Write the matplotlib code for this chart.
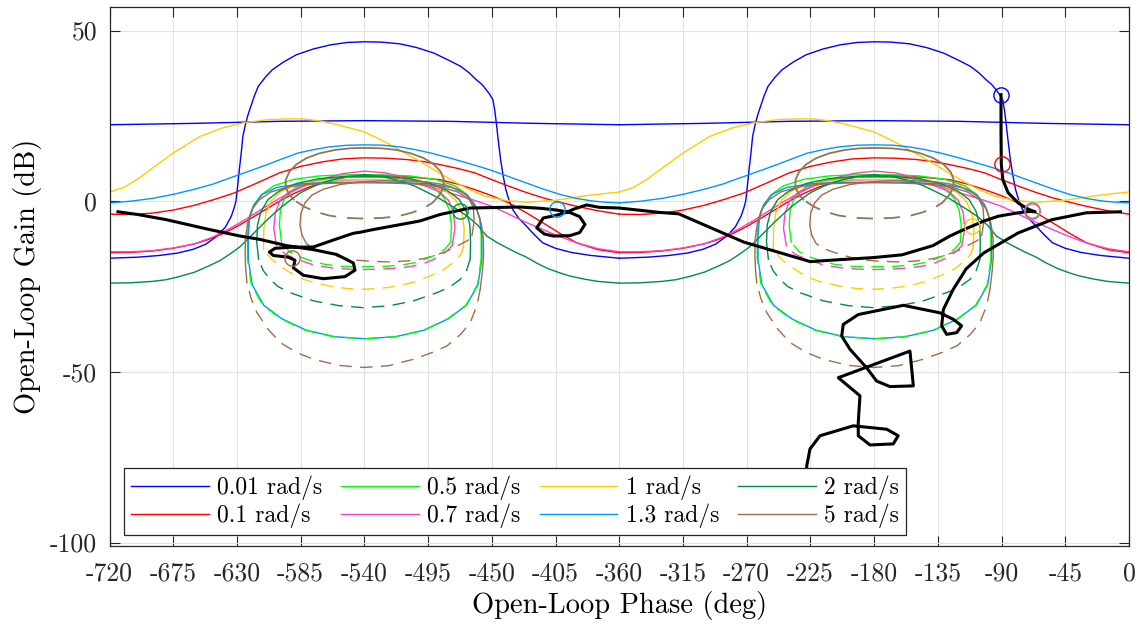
import numpy as np
import matplotlib
matplotlib.use('Agg')
import matplotlib.pyplot as plt
from matplotlib.lines import Line2D

plt.rcParams['font.family'] = ['cmr10', 'DejaVu Serif']
plt.rcParams['axes.unicode_minus'] = False
plt.rcParams['mathtext.fontset'] = 'cm'

# ---- bound data over one period (phase -360..0 deg); drawn again at -360 ----
# 0.01 rad/s
blue_top_ph = [-360, -300, -240, -180, -120, -60, 0]
blue_top_g = [22.4, 22.8, 23.4, 23.6, 23.4, 22.8, 22.4]
blue_hat_ph = [-360, -340, -325, -312, -301, -292, -284, -278, -274, -272, -270.7, -269.5,
               -268.3, -267, -265.8, -264, -262.2, -258, -255, -250, -245, -237, -228, -216,
               -204, -192, -180, -168, -155, -143, -131, -120, -112, -106, -101, -97, -94,
               -91.5, -89.2, -88, -86.8, -85.5, -83.8, -82, -80.1, -78, -75.3, -71, -65.6,
               -60, -54, -45, -34, -20, 0]
blue_hat_g = [-16.7, -16.4, -15.9, -15.2, -14.1, -12.6, -10.2, -7.5, -4.4, -2, 0, 4.5,
              9.3, 14, 19, 22.5, 25.3, 30.5, 33.6, 36.3, 38.5, 40.8, 42.9, 44.6,
              45.8, 46.5, 46.7, 46.6, 46.1, 45, 43.4, 41.2, 39.5, 37.6, 35.6, 34.2, 32.7,
              31.3, 29.7, 26.8, 22.9, 18, 12.2, 7.5, 3.4, 0.5, -2.4, -5, -7.3,
              -9.8, -12.2, -13.8, -15, -15.9, -16.7]
# 0.1 rad/s
red_a_ph = [-360, -345, -330, -315, -300, -286, -272, -256, -240, -225, -210, -195, -180, -165,
            -150, -138, -126.5, -114, -102, -90, -78, -66, -54, -42, -30, -15, 0]
red_a_g = [-3.8, -3.9, -3.5, -2.6, -1.2, 0.5, 2.4, 5.3, 8.3, 10.2, 11.5, 12.4, 12.7, 12.6,
           12.2, 11.6, 10.7, 9.6, 8.3, 6.3, 4.4, 2.6, 1.0, -0.3, -1.5, -2.8, -3.8]
red_b_ph = [-360, -345, -330, -315, -300, -290, -280, -270, -260, -250, -240, -230, -220, -210,
            -200, -190, -180, -168, -155, -140, -126.5, -114, -102, -90, -78, -66, -54, -42,
            -30, -15, 0]
red_b_g = [-15.1, -15, -14.6, -13.8, -12.5, -11.2, -9.5, -7.4, -5, -2.5, 0, 2.2, 4, 5.4,
           6.5, 7.2, 7.6, 7.6, 7.3, 6.8, 6.3, 5.0, 3.4, 1.6, -0.5, -3.3, -6.3, -9.4,
           -12.2, -14.2, -15.1]
# 0.5 rad/s
green_big_ph = [-262.5, -262.5, -261.5, -258.5, -253, -244, -230, -212, -196, -180, -164, -148,
                -130, -116, -107, -101.5, -98.5, -97.5, -97.5]
green_big_g = [-17, -10, -5, -1.5, 1.8, 4.5, 6.4, 7.4, 7.7, 7.8, 7.7, 7.4,
               6.4, 4.5, 1.8, -1.5, -5, -10, -17]
green_big_dash_ph = [-97.5, -100.2, -108.3, -121.3, -138.3, -158.2, -180, -201.8, -221.7,
                     -238.7, -251.7, -259.8, -262.5]
green_big_dash_g = [-17, -24.5, -30.5, -34.5, -37.8, -39.7, -40.3, -39.7, -37.8,
                    -34.5, -30.5, -24.5, -17]
green_in_ph = [-238.5, -240, -239.3, -236, -229, -218, -204, -192, -180, -168, -156, -142,
               -131, -124, -120, -118.5, -119]
green_in_g = [-12, -7, -2.5, 1.2, 3.9, 5.7, 6.7, 7.0, 7.0, 7.0, 6.7, 5.7,
              3.9, 1.2, -2.5, -7, -12]
green_in_dash_ph = [-119, -123, -130, -142, -152, -165, -180, -195, -208, -218, -227, -233, -238.5]
green_in_dash_g = [-12, -14, -15.8, -17.8, -18.6, -19.1, -19.2, -19.1, -18.5, -17.4, -16.1,
                   -14.8, -12]
# 0.7 rad/s
mag_ph = [-360, -345, -330, -315, -300, -287, -275, -265, -255, -245, -235, -222, -210, -195,
          -180, -165, -150, -138, -126.5, -117, -108, -99, -90, -81, -72, -63, -54, -42,
          -30, -15, 0]
mag_g = [-14.8, -14.8, -14.5, -13.7, -12.5, -10.5, -8, -5.6, -3, -0.4, 2, 4.6, 6.5, 8.1,
         8.8, 8.3, 6.8, 5.2, 3.4, 2.1, 1, -0.2, -1.5, -3.2, -5, -6.7, -8.3, -10.4,
         -12.2, -13.9, -14.8]
mag_u_ph = [-242, -244, -243, -239.5, -233, -222, -208, -194, -180, -166, -152, -138, -127,
            -120.5, -117, -116, -118]
mag_u_g = [-13, -8, -3.5, 0.2, 2.8, 4.6, 5.7, 6.2, 6.3, 6.2, 5.7, 4.6, 2.8,
           0.2, -3.5, -8, -13]
mag_u_dash_ph = [-118, -121.7, -128, -140, -150, -160, -170, -180.6, -190, -200, -215, -227.6,
                 -236, -242]
mag_u_dash_g = [-13, -14.6, -16.5, -18.6, -19.3, -19.7, -19.9, -20, -19.9, -19.7, -18.8, -17,
                -15.5, -13]
# 1 rad/s
yel_ph = [-360, -350, -340, -330, -315, -296, -280, -265, -248, -235, -223, -211, -199, -180,
          -167.5, -155, -143, -130, -119, -107, -95, -80, -66, -46, -22, 0]
yel_g = [2.7, 4.0, 6.5, 9.6, 14.1, 19, 21.5, 23, 23.9, 24.1, 24.1, 23.5, 22.4, 20.3,
         17.8, 15, 12.2, 9, 6.3, 3.6, 1.5, 0.2, -0.3, 0.2, 1.7, 2.7]
yel_u_ph = [-251.2, -251, -249.5, -246, -239, -228, -212, -196, -180, -164, -148, -133, -122,
            -115, -111, -109.5, -110]
yel_u_g = [-14.1, -8, -3.5, 0, 2.8, 4.8, 5.9, 6.3, 6.4, 6.3, 5.9, 4.8, 2.8,
           0, -3.5, -8, -13.2]
yel_u_dash_ph = [-110, -111.5, -114.6, -123, -133.5, -145, -157, -168, -180.6, -192, -204, -214,
                 -222.9, -232, -239.4, -246, -251.2]
yel_u_dash_g = [-13.2, -15.3, -17, -19.8, -21.9, -23.7, -24.9, -25.5, -25.8, -25.6, -24.9, -24,
                -22.9, -21, -19, -16.8, -14.1]
# 1.3 rad/s
cyan_ph = [-360, -345, -330, -315, -300, -287, -275, -262, -250, -238, -227, -216, -205, -192,
           -180, -167, -155, -144, -133, -121, -110, -100, -90, -78, -66, -54, -42, -30,
           -18, -9, 0]
cyan_g = [-0.5, 0, 0.8, 2, 3.5, 5, 6.8, 8.7, 10.5, 12.4, 14.1, 15.1, 15.9, 16.4,
          16.5, 16.4, 15.9, 15.1, 14.1, 12.8, 11.5, 10.3, 9.0, 7.2, 5.4, 3.6, 2.0, 0.8,
          0.0, -0.3, -0.5]
cyan_u_ph = [-180, -157, -135, -118, -108, -102, -98.5, -97, -97, -99.8, -108, -121, -138,
             -158, -179.5, -201, -221, -238, -251, -259.2, -262, -262, -261, -258, -252,
             -242, -225, -203, -180]
cyan_u_g = [5.6, 5.5, 5.1, 4.0, 2.0, -1.0, -5, -10, -17, -24.5, -30.5, -34.5, -37.8,
            -39.7, -40.3, -39.7, -37.8, -34.5, -30.5, -24.5, -17, -10, -5, -1, 2,
            4.0, 5.1, 5.5, 5.6]
# 2 rad/s
dkg_ph = [-360, -345, -330, -320, -310, -300, -290, -282, -275, -268, -262, -256, -250, -244,
          -238, -231, -225, -215, -205, -193, -180, -167, -155, -145, -135, -127, -120,
          -113, -107, -100, -93.6, -86, -80, -73, -66, -58, -50, -42, -35, -25, -15, 0]
dkg_g = [-24, -23.9, -23.5, -23, -22, -20.8, -19, -17.4, -15.5, -13.4, -11, -8.5, -6, -3.7,
         -1.5, 0.7, 2.5, 4.5, 6, 7.2, 7.8, 7.2, 6, 4.5, 2.5, 0.8, -1,
         -2.8, -4.5, -7, -10.2, -12.2, -13.5, -15, -16.3, -18.2, -19.8, -21, -21.9, -22.8,
         -23.5, -24]
dkg_u_ph = [-254.7, -256, -255.5, -253, -248, -240, -228, -212, -196, -180, -164, -148, -133,
            -121, -113, -108, -105.5, -105, -105.3]
dkg_u_g = [-17, -12, -7, -3, 0.5, 3, 5.2, 6.6, 7.2, 7.3, 7.2, 6.6, 5.2,
           3, 0.5, -3, -7, -12, -17]
dkg_u_dash_ph = [-105.3, -108, -112.3, -120, -128.8, -145.3, -162, -180.6, -198, -215.9,
                 -232.4, -241, -246.5, -251.5, -254.7]
dkg_u_dash_g = [-17, -20.5, -22.9, -25.2, -26.8, -29.2, -30.6, -31.2, -30.6, -29.2,
                -26.8, -25, -22.9, -20.3, -17]
# 5 rad/s
brn_el_ph = [-230, -233.5, -235.6, -235.5, -233, -228, -221, -212, -201, -190, -180, -168,
             -157, -147, -138, -131, -126, -123.8, -124.3, -126, -127.6]
brn_el_g = [0.5, 2.2, 4.2, 6.3, 8.6, 10.8, 12.6, 14, 15, 15.5, 15.6, 15.5,
            15, 14, 12.6, 10.8, 8.6, 6.3, 4, 2.4, 1.5]
brn_el_dash_ph = [-127.6, -132, -138, -146, -155, -167, -180, -193, -205, -215, -222, -227, -230]
brn_el_dash_g = [1.5, -0.5, -2, -3.3, -4.3, -4.9, -5.1, -4.9, -4.2, -3.0, -1.7, -0.4, 0.5]
brn_in_ph = [-104, -102.5, -103, -106.5, -113, -123, -137, -152, -167, -182, -197, -209, -217,
             -222, -224.8, -225.5, -224]
brn_in_g = [-10, -6, -2, 1.2, 3.3, 4.8, 5.7, 6.0, 6.0, 5.7, 4.9, 3.5, 1.8,
            -0.5, -3.5, -7, -10]
brn_in_dash_ph = [-224, -221, -216, -211, -203, -195, -185, -175, -162, -150, -138, -128,
                  -120, -113, -107, -104]
brn_in_dash_g = [-10, -12.4, -13.8, -14.6, -15.7, -16.6, -17.3, -17.6, -17.8, -17.5, -16.8,
                 -15.6, -14.3, -12.8, -11.5, -10]
brn_out_ph = [-262.9, -263.8, -264.2, -264, -262.5, -259.5, -254, -246, -234, -218, -200, -180,
              -160, -142, -126, -114, -106, -100.5, -97.5, -96, -95.8, -96.5, -98.2]
brn_out_g = [-23.9, -20, -16, -11, -6.5, -2.5, 0.5, 2.7, 4.2, 5.0, 5.3, 5.4,
             5.3, 5.0, 4.2, 2.7, 0.5, -2.5, -6.5, -11, -16, -20, -25.8]
brn_out_dash_ph = [-98.2, -100.5, -105.3, -112, -121.7, -132, -145.3, -163, -180.6, -198,
                   -215.9, -228, -239.4, -248, -255.9, -260, -262.9]
brn_out_dash_g = [-25.8, -30.5, -35.6, -39, -42.4, -44.3, -46.3, -48.2, -48.7, -48.1,
                  -46.3, -44.3, -41.4, -37.5, -32.6, -28.5, -23.9]

# ---- nominal open loop ----
loop_a_ph = [-90.4, -90.4, -90.2, -89.1, -85.4, -78.3, -71, -66.3, -70, -78.3, -92.3, -102.4,
             -110.8, -116.6, -126.5, -138.4, -160.2, -180, -211.2, -225, -271.9, -318, -331,
             -360, -374, -383, -392, -397, -405, -413.6, -418.3, -413, -406.6, -395, -388,
             -384.2, -388, -395, -404, -415, -430.1, -465.4, -486.6, -500.8, -533.7, -543.1,
             -547.8, -557.2, -576, -592.5, -603.1, -607.1, -604.3, -593.7, -589, -590.2,
             -583.1, -569, -553.7, -546.6, -547.8, -559.6, -576, -595, -613.7, -627.8,
             -649.4, -680, -700, -714]
loop_a_g = [31.2, 20, 10.9, 6.3, 2.5, -0.5, -2.4, -3.1, -3.0, -3.4, -4.4, -5.8,
            -7.3, -8.3, -10.2, -13, -15.7, -16.5, -17.3, -17.7, -12, -3.7, -3.3,
            -2.0, -1.8, -1.1, -2.3, -3.2, -4.2, -4.9, -7.8, -9.6, -10.2, -10.1, -9.2,
            -6.8, -4.5, -3.3, -2.6, -2.1, -1.7, -2.0, -3.9, -5.8, -8.3, -9.1,
            -9.4, -10.7, -13.4, -13.5, -13.8, -14.9, -15.9, -16.4, -17.3, -19.5,
            -21.7, -22.7, -22.1, -20.2, -18.1, -15.6, -14.2, -13, -11.2, -10.2,
            -8.3, -5.4, -3.9, -3.1]
loop_b_ph = [-6, -30.2, -54.3, -78.3, -102.4, -115, -124.1, -131.1, -132.3, -128.8, -121.7,
             -118.2, -124.1, -133.5, -159.4, -191.2, -201.8, -202.9, -197, -185.3, -178.2,
             -168.8, -152.3, -154.7, -205.3, -190, -191.2, -191.2, -182.9, -166.5, -163,
             -171.1, -194.7, -218.2, -225.3, -227.6, -228]
loop_b_g = [-3.1, -3.4, -5.4, -9.3, -15.1, -19.8, -25.8, -31.7, -36.5, -39, -38.5,
            -36.5, -34.6, -32.7, -30.5, -33.2, -36.1, -39.5, -43.4, -48.8, -52.7,
            -54.3, -54.1, -43.9, -51.7, -57, -64.8, -68.7, -71.4, -71.1, -68.7,
            -66.8, -65.8, -68.7, -72.6, -77.5, -95]

# loop points at the design frequencies
freqs = ['0.01', '0.1', '0.5', '0.7', '1', '1.3', '2', '5']
mark_ph = [-90.4, -89.9, -68.2, -68.6, -110.8, -404.2, -472.4, -591.4]
mark_g = [31.2, 10.9, -2.7, -2.9, -7.3, -2.4, -2.9, -16.6]

colors = {'0.01': '#0000FF', '0.1': '#FF0000', '0.5': '#00FF00', '0.7': '#FF40C8',
          '1': '#FFCC00', '1.3': '#0095FF', '2': '#008C45', '5': '#A66A44'}
ellipse_col = '#8F7559'

LW = 1.0
DASH = (0, (9, 6))

fig = plt.figure(figsize=(11.39, 6.28), dpi=100)
ax = fig.add_axes([109.5 / 1139, 1 - 546 / 628, (1129 - 109.5) / 1139, (546 - 7.3) / 628])


def periodic(ph, g, col, dashed=False, lw=LW):
    for shift in (0, -360):
        if dashed:
            ax.plot(np.array(ph) + shift, g, color=col, lw=lw, linestyle=DASH)
        else:
            ax.plot(np.array(ph) + shift, g, color=col, lw=lw)


periodic(blue_top_ph, blue_top_g, colors['0.01'])
periodic(blue_hat_ph, blue_hat_g, colors['0.01'])
periodic(red_a_ph, red_a_g, colors['0.1'])
periodic(red_b_ph, red_b_g, colors['0.1'])
periodic(green_big_ph, green_big_g, colors['0.5'])
periodic(green_in_ph, green_in_g, colors['0.5'])
periodic(mag_ph, mag_g, colors['0.7'])
periodic(mag_u_ph, mag_u_g, colors['0.7'])
periodic(yel_ph, yel_g, colors['1'])
periodic(yel_u_ph, yel_u_g, colors['1'])
periodic(yel_u_dash_ph, yel_u_dash_g, colors['1'], dashed=True)
periodic(cyan_ph, cyan_g, colors['1.3'])
periodic(cyan_u_ph, cyan_u_g, colors['1.3'])
periodic(dkg_ph, dkg_g, colors['2'])
periodic(dkg_u_ph, dkg_u_g, colors['2'])
periodic(dkg_u_dash_ph, dkg_u_dash_g, colors['2'], dashed=True)
periodic(brn_el_ph, brn_el_g, ellipse_col, lw=1.3)
periodic(brn_el_dash_ph, brn_el_dash_g, ellipse_col, dashed=True, lw=1.3)
periodic(brn_in_ph, brn_in_g, colors['5'])
periodic(brn_in_dash_ph, brn_in_dash_g, colors['5'], dashed=True)
periodic(brn_out_ph, brn_out_g, colors['5'])
periodic(brn_out_dash_ph, brn_out_dash_g, colors['5'], dashed=True)
# dashed parts drawn over the solid ones they share
periodic(green_big_dash_ph, green_big_dash_g, colors['0.5'], dashed=True)
periodic(green_in_dash_ph, green_in_dash_g, colors['0.5'], dashed=True)
periodic(mag_u_dash_ph, mag_u_dash_g, colors['0.7'], dashed=True)

ax.plot(loop_a_ph, loop_a_g, color='k', lw=2.2, solid_joinstyle='round')
ax.plot(loop_b_ph, loop_b_g, color='k', lw=2.2, solid_joinstyle='round')
for f, p, g in zip(freqs, mark_ph, mark_g):
    ax.plot(p, g, 'o', mfc='none', mec=colors[f], ms=11, mew=1.0)

ax.set_xlim(-720, 0)
ax.set_ylim(-101, 56.8)
xt = list(range(-720, 1, 45))
ax.set_xticks(xt)
ax.set_xticklabels([str(v) for v in xt])
ax.set_yticks([-100, -50, 0, 50])
ax.set_yticklabels(['-100', '-50', '0', '50'])
ax.tick_params(direction='in', top=True, right=True, length=7, width=0.8,
               labelsize=18.5, colors='#262626', pad=9)
ax.tick_params(axis='x', pad=11)
for s in ax.spines.values():
    s.set_color('#262626')
    s.set_linewidth(0.9)
ax.grid(True, color='#E2E2E2', lw=0.8)
ax.set_axisbelow(True)
ax.set_xlabel('Open-Loop Phase (deg)', fontsize=20.5, labelpad=4)
ax.set_ylabel('Open-Loop Gain (dB)', fontsize=20.5, labelpad=6)

handles = [Line2D([], [], color=colors[f], lw=LW) for f in freqs]
labels = [f + ' rad/s' for f in freqs]
leg = ax.legend(handles, labels, ncol=4, loc='lower left', bbox_to_anchor=(0.0142, 0.0204),
                borderaxespad=0, fontsize=17, handlelength=3.3, handletextpad=0.35,
                columnspacing=0.8, labelspacing=0.15, borderpad=0.3, fancybox=False,
                framealpha=1, edgecolor='#262626')
leg.get_frame().set_linewidth(0.9)

fig.savefig('out.png', dpi=100)
